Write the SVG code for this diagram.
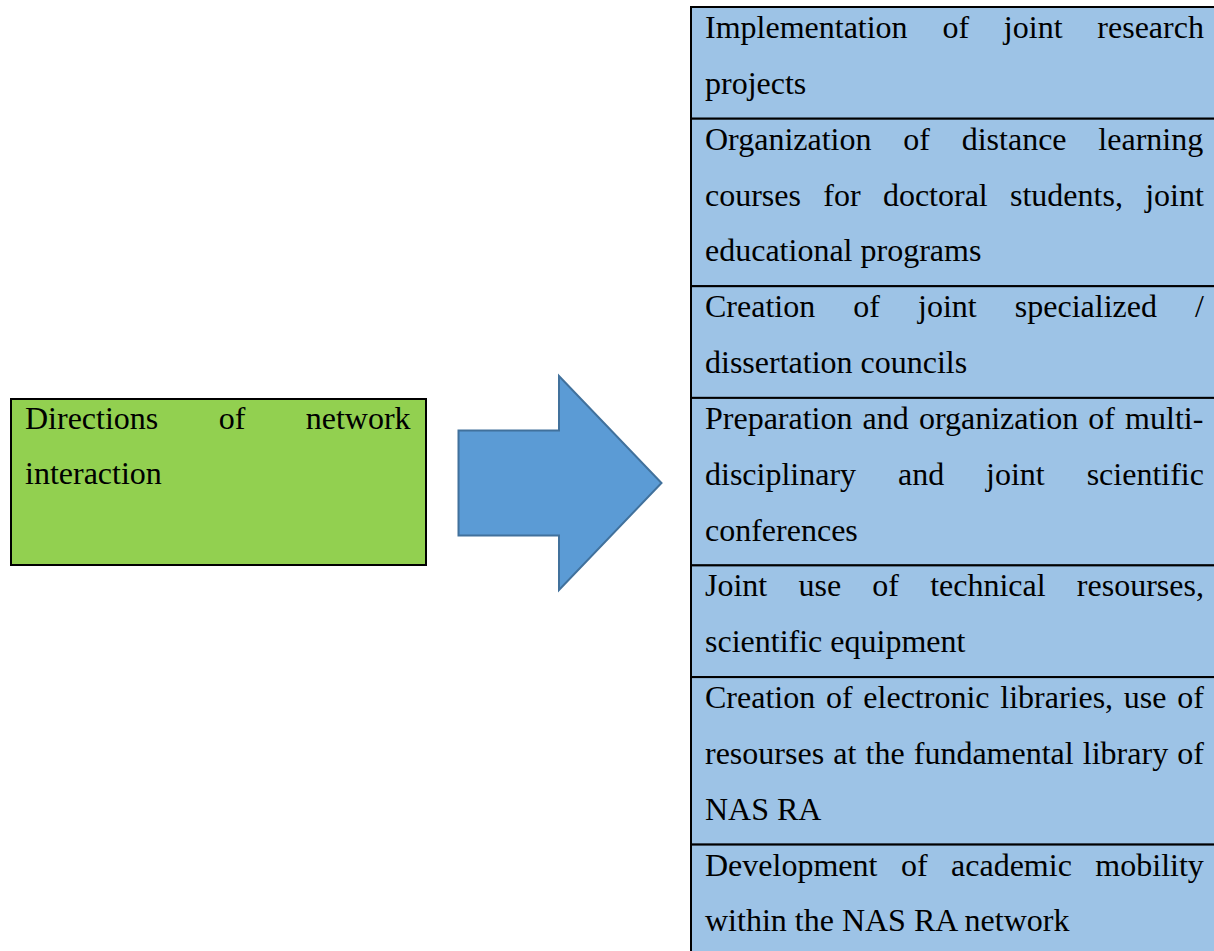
<svg xmlns="http://www.w3.org/2000/svg" width="1214" height="951" viewBox="0 0 1214 951">
<style>
.t{font-family:"Liberation Serif","Times New Roman",serif;font-size:32px;fill:#000}
.row{fill:#9DC3E6;stroke:#000;stroke-width:2}
</style>
<rect width="1214" height="951" fill="#fff"/>
<g id="source">
<rect x="11" y="399" width="415" height="166" fill="#92D050" stroke="#000" stroke-width="2"/>
<text class="t" x="25" y="429" word-spacing="52.4">Directions of network</text>
<text class="t" x="25" y="484">interaction</text>
</g>
<g id="connectors">
<polygon points="458.5,430.5 559,430.5 559,376 661.5,483 559,590 559,535.5 458.5,535.5" fill="#5B9BD5" stroke="#41719C" stroke-width="2"/>
</g>
<g id="row1">
<rect class="row" x="691" y="7" width="540" height="111.7"/>
<text class="t" x="705" y="38" word-spacing="26.8">Implementation of joint research</text>
<text class="t" x="705" y="93.8">projects</text>
</g>
<g id="row2">
<rect class="row" x="691" y="118.7" width="540" height="167.5"/>
<text class="t" x="705" y="149.7" word-spacing="23.8">Organization of distance learning</text>
<text class="t" x="705" y="205.5" word-spacing="14.3">courses for doctoral students, joint</text>
<text class="t" x="705" y="261.3">educational programs</text>
</g>
<g id="row3">
<rect class="row" x="691" y="286.2" width="540" height="111.7"/>
<text class="t" x="705" y="317.2" word-spacing="30.1">Creation of joint specialized /</text>
<text class="t" x="705" y="373">dissertation councils</text>
</g>
<g id="row4">
<rect class="row" x="691" y="397.9" width="540" height="167.5"/>
<text class="t" x="705" y="428.9" word-spacing="2.1">Preparation and organization of multi-</text>
<text class="t" x="705" y="484.7" word-spacing="33.9">disciplinary and joint scientific</text>
<text class="t" x="705" y="540.5">conferences</text>
</g>
<g id="row5">
<rect class="row" x="691" y="565.4" width="540" height="111.7"/>
<text class="t" x="705" y="596.4" word-spacing="23.2">Joint use of technical resourses,</text>
<text class="t" x="705" y="652.2">scientific equipment</text>
</g>
<g id="row6">
<rect class="row" x="691" y="677.1" width="540" height="167.5"/>
<text class="t" x="705" y="708.1" word-spacing="2.76">Creation of electronic libraries, use of</text>
<text class="t" x="705" y="763.9" word-spacing="1.16">resourses at the fundamental library of</text>
<text class="t" x="705" y="819.7">NAS RA</text>
</g>
<g id="row7">
<rect class="row" x="691" y="844.6" width="540" height="130"/>
<text class="t" x="705" y="875.6" word-spacing="15.5">Development of academic mobility</text>
<text class="t" x="705" y="931.4">within the NAS RA network</text>
</g>
</svg>
